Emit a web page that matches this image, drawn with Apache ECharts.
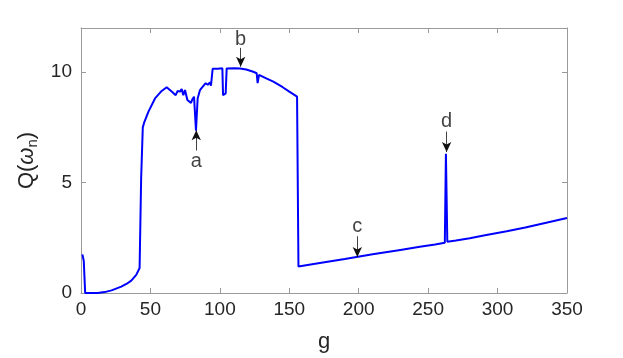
<!DOCTYPE html>
<html>
<head>
<meta charset="utf-8">
<script src="https://cdn.jsdelivr.net/npm/echarts@6/dist/echarts.min.js"></script>
<style>html,body{margin:0;padding:0;background:#fff;}#c{width:623px;height:358px;}</style>
</head>
<body>
<div id="c"></div>
<script>
// g values and Q(ω_n) values
const gValues = [1, 2, 3, 8, 12, 17, 22, 29, 33, 36.2, 39.8, 42.2, 43, 43.3, 43.8, 44.5, 45.4, 48.5, 53.3, 58.1, 61.7, 65.3, 68.2, 69.6, 71.3, 72.5, 73.7, 74.9, 76.6, 78, 79.2, 80.2, 81.4, 82.8, 84, 85.7, 87.1, 88.3, 89.8, 91.3, 92.9, 93.6, 94.8, 98.5, 101.8, 102.3, 104.2, 104.9, 110.9, 114.5, 119, 124.1, 126.5, 127.2, 128.2, 133, 138.5, 145, 150, 155.6, 156.6, 172, 190, 210, 230, 244, 255, 262, 262.8, 263.8, 270, 280, 290, 306.6, 320, 335, 350];
const qValues = [1.75, 1.45, 0.0, 0.0, 0.0, 0.04, 0.12, 0.29, 0.42, 0.56, 0.82, 1.13, 1.16, 5.16, 5.25, 7.5, 7.7, 8.2, 8.81, 9.15, 9.32, 9.12, 8.96, 9.15, 9.12, 9.24, 8.96, 9.19, 8.74, 8.69, 8.61, 8.77, 8.89, 7.35, 8.81, 9.19, 9.3, 9.24, 9.5, 9.43, 9.54, 9.39, 10.15, 10.16, 10.18, 8.96, 9.04, 10.17, 10.18, 10.17, 10.12, 10.02, 9.95, 9.5, 9.88, 9.73, 9.57, 9.33, 9.12, 8.89, 1.2, 1.36, 1.54, 1.75, 1.95, 2.09, 2.2, 2.28, 6.3, 2.32, 2.38, 2.48, 2.6, 2.8, 2.97, 3.18, 3.4];
const xTicks = [0, 50, 100, 150, 200, 250, 300, 350];
const yTicks = [0, 5, 10];
// annotation arrows
const annLabels = ['a', 'b', 'c', 'd'];
const annG = [83, 115, 199, 263.3];
const annTail = [6.45, 11.1, 2.57, 7.31];
const annHead = [7.37, 10.25, 1.63, 6.38];
const annTextQ = [5.95, 11.47, 3.0, 7.78];

const lineData = gValues.map((g, i) => [g, qValues[i]]);
const arrowData = annG.map((g, i) => [
  {coord: [g, annTail[i]], symbol: 'none'},
  {coord: [g, annHead[i]], symbol: 'arrow'}
]);
const labelData = annG.map((g, i) => ({value: [g, annTextQ[i]], name: annLabels[i]}));

const axisCol = '#9a9a9a';
const txtCol = '#262626';
const chart = echarts.init(document.getElementById('c'));
chart.setOption({
  animation: false,
  backgroundColor: '#fff',
  grid: {left: 81, right: 56, top: 28, bottom: 65, show: false},
  xAxis: [{
    type: 'value', min: 0, max: 350, interval: 50,
    name: 'g', nameLocation: 'middle', nameGap: 38,
    nameTextStyle: {fontFamily: 'Liberation Sans', fontSize: 22, color: txtCol},
    axisLine: {show: true, lineStyle: {color: axisCol, width: 1}},
    axisTick: {show: true, inside: true, length: 5, lineStyle: {color: axisCol}},
    axisLabel: {fontFamily: 'Liberation Sans', fontSize: 19, color: txtCol, margin: 7,
      formatter: v => xTicks.includes(v) ? String(v) : ''},
    splitLine: {show: false}
  }, {
    type: 'value', min: 0, max: 350, interval: 50, position: 'top',
    axisLine: {show: true, onZero: false, lineStyle: {color: axisCol, width: 1}},
    axisTick: {show: true, inside: true, length: 5, lineStyle: {color: axisCol}},
    axisLabel: {show: false}, splitLine: {show: false}
  }],
  yAxis: [{
    type: 'value', min: 0, max: 12, interval: 5,
    name: 'Q({w|ω}{s|n})', nameLocation: 'middle', nameGap: 40, nameRotate: 90,
    nameTextStyle: {fontFamily: 'Liberation Sans', fontSize: 22, color: txtCol,
      rich: {
        w: {fontFamily: 'Liberation Sans', fontSize: 22, fontStyle: 'italic', color: txtCol},
        s: {fontFamily: 'Liberation Sans', fontSize: 15, color: txtCol, padding: [0, 0, -12, 0]}
      }},
    axisLine: {show: true, lineStyle: {color: axisCol, width: 1}},
    axisTick: {show: true, inside: true, length: 5, lineStyle: {color: axisCol}},
    axisLabel: {fontFamily: 'Liberation Sans', fontSize: 19, color: txtCol, margin: 9, showMaxLabel: false,
      formatter: v => yTicks.includes(v) ? String(v) : ''},
    splitLine: {show: false}
  }, {
    type: 'value', min: 0, max: 12, interval: 5, position: 'right',
    axisLine: {show: true, onZero: false, lineStyle: {color: axisCol, width: 1}},
    axisTick: {show: true, inside: true, length: 5, lineStyle: {color: axisCol}},
    axisLabel: {show: false}, splitLine: {show: false}
  }],
  series: [{
    type: 'line', data: lineData, showSymbol: false, symbol: 'none',
    lineStyle: {color: '#0000ff', width: 2}, z: 3,
    markLine: {
      silent: true, symbolSize: [7, 10],
      lineStyle: {color: '#111', width: 0.8, type: 'solid'},
      label: {show: false},
      data: arrowData
    }
  }, {
    type: 'scatter', data: labelData, symbolSize: 0, z: 4,
    label: {show: true, position: 'inside', formatter: p => p.name,
      fontFamily: 'Liberation Sans', fontSize: 20, color: '#111'}
  }]
});
</script>
</body>
</html>
